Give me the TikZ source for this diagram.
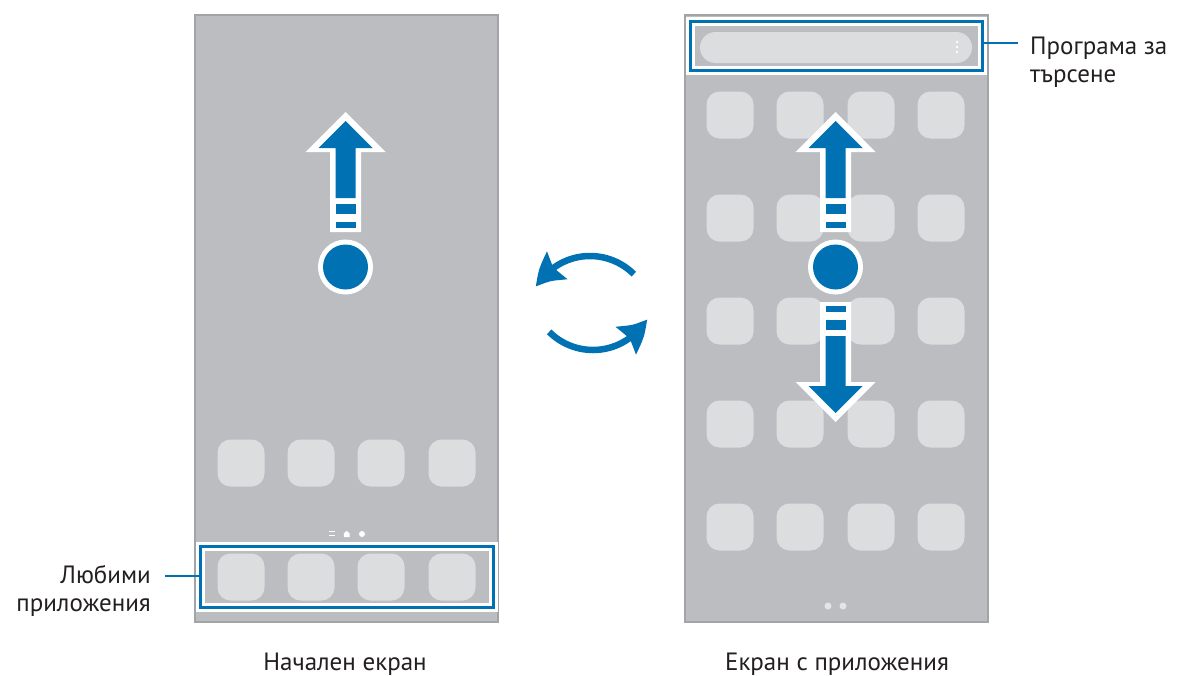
\documentclass[tikz,border=0pt]{standalone}
\usepackage{fontspec}
\setmainfont{PT Sans}
\usetikzlibrary{arrows.meta,bending}
\definecolor{sblue}{RGB}{0,113,178}
\definecolor{scr}{RGB}{188,189,193}
\definecolor{scrb}{RGB}{163,164,168}
\definecolor{iconc}{RGB}{220,221,223}
\definecolor{txt}{RGB}{35,31,32}
\tikzset{
  phone/.style={draw=scrb, line width=2, fill=scr, inner sep=0, minimum width=303, minimum height=607},
  appicon/.style={fill=iconc, rounded corners=13, inner sep=0, minimum width=47, minimum height=47},
  hlbox/.style={draw=sblue, line width=3, preaction={draw=white, line width=9}, inner sep=0},
  leader/.style={draw=sblue, line width=2.2},
  lbl/.style={font=\fontsize{25}{28}\selectfont, text=txt, inner sep=0},
  rot/.style={draw=sblue, line width=6.5, -{Stealth[length=30, width=33, inset=4, bend]}},
  swipe/.pic={
    \fill[white] (0,-155) -- (40,-115) -- (15.5,-115) -- (15.5,-35) -- (-15.5,-35) -- (-15.5,-115) -- (-40,-115) -- cycle;
    \fill[sblue] (0,-146) -- (27,-119) -- (10,-119) -- (10,-69) -- (-10,-69) -- (-10,-119) -- (-27,-119) -- cycle;
    \fill[sblue] (-10,-63) rectangle (10,-53);
    \fill[sblue] (-10,-45) rectangle (10,-39);
  },
  touch/.pic={
    \fill[white] (0,0) circle[radius=27.5];
    \fill[sblue] (0,0) circle[radius=22.5];
  }
}
\begin{document}
\begin{tikzpicture}[x=1pt,y=-1pt]
\useasboundingbox[fill=white] (0,0) rectangle (1178,675);

% ---------- home screen ----------
\node[phone] (home) at (346.5,318.5) {};
\foreach \x [count=\i] in {241,311,381,452} {
  \node[appicon] (hrow\i) at (\x,463) {};
}
% page indicator
\draw[white, line width=1.4] (329,531.5) -- (335,531.5) (329,535.5) -- (335,535.5);
\fill[white] (343.8,537) -- (343.8,533.5) -- (346.7,530.8) -- (349.6,533.5) -- (349.6,537) -- cycle;
\fill[white] (362,534) circle[radius=3];
% favourites
\node[hlbox, minimum width=293, minimum height=61] (favbox) at (346.5,577) {};
\foreach \x [count=\i] in {241,311,381,452} {
  \node[appicon] (fav\i) at (\x,577) {};
}
\pic at (345.5,267) {swipe};
\pic at (345.5,267) {touch};

\node[lbl, anchor=base east] (favlbl1) at (151,583) {Любими};
\node[lbl, anchor=base east] (favlbl2) at (151,611) {приложения};
\coordinate (favlead) at (165,576);
\draw[leader] (favlead) -- (favlead -| favbox.west);

% ---------- apps screen ----------
\node[phone] (apps) at (836.5,318.5) {};
\foreach \y [count=\j] in {115,218,321,424,527} {
  \foreach \x [count=\i] in {730,800,871,941} {
    \node[appicon] (app\j\i) at (\x,\y) {};
  }
}
\node[hlbox, minimum width=292, minimum height=49] (sbox) at (836,46) {};
\node[fill=iconc, rounded corners=15.5, inner sep=0, minimum width=272, minimum height=31] (sbar) at (836,47.5) {};
\foreach \y in {42,47,52} { \fill[white] (957,\y) circle[radius=1.3]; }
\fill[iconc!80!white] (828,606) circle[radius=3.5];
\fill[iconc!80!white] (843,606) circle[radius=3.5];

\pic at (835.5,267) {swipe};
\pic[yscale=-1] at (835.5,267) {swipe};
\pic at (835.5,267) {touch};

\node[lbl, anchor=base west] (srch1) at (1030,54) {Програма за};
\node[lbl, anchor=base west] (srch2) at (1030,82) {търсене};
\coordinate (srchlead) at (1018,43);
\draw[leader] (srchlead -| sbox.east) -- (srchlead);

% ---------- captions ----------
\node[lbl, anchor=base] (cap1) at (345,670) {Начален екран};
\node[lbl, anchor=base] (cap2) at (837,670) {Екран с приложения};

% ---------- switch arrows ----------
\coordinate (rtop) at (590,318);
\coordinate (rbot) at (593,288);
\draw[rot] (rtop) ++(-45:62) arc[start angle=-45, end angle=-150, radius=62];
\draw[rot] (rbot) ++(135:62) arc[start angle=135, end angle=30, radius=62];
\end{tikzpicture}
\end{document}
